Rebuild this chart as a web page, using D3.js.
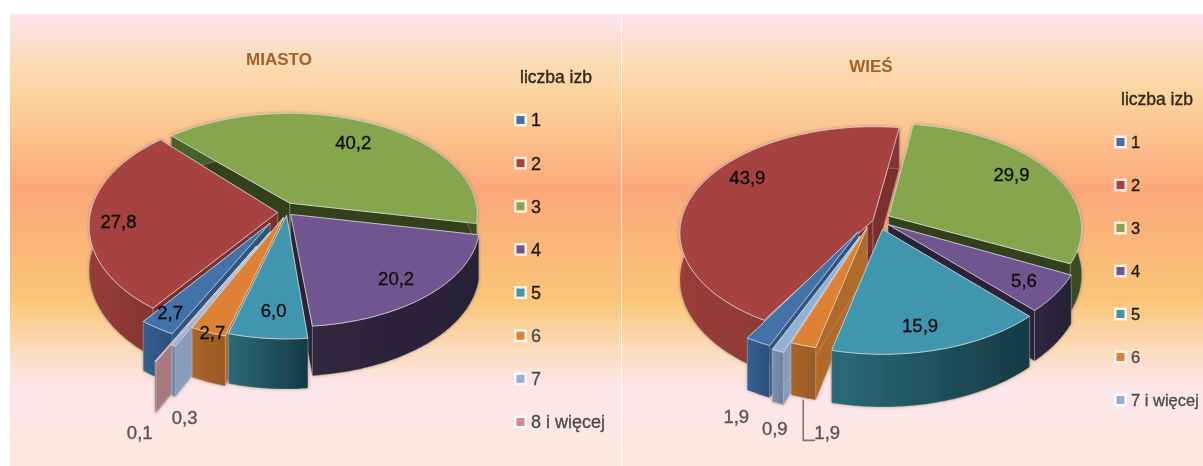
<!DOCTYPE html>
<html lang="pl">

<head>
    <meta charset="UTF-8">
    <script src="https://d3js.org/d3.v7.min.js"></script>
    <title>Liczba izb - miasto i wieś</title>
    <style>
        html, body { margin: 0; padding: 0; background: white; overflow: hidden; }
        svg { display: block; }
        text { font-family: "Liberation Sans", Arial, sans-serif; }
    </style>
</head>

<body>
    <svg id="chart" width="1203" height="466"></svg>

    <script>
        // data
        const cityCategories = ["1", "2", "3", "4", "5", "6", "7", "8 i więcej"];
        const cityValues = [2.7, 27.8, 40.2, 20.2, 6.0, 2.7, 0.3, 0.1];
        const villageCategories = ["1", "2", "3", "4", "5", "6", "7 i więcej"];
        const villageValues = [1.9, 43.9, 29.9, 5.6, 15.9, 1.9, 0.9];

        // slice colours, same order as categories
        const topColors = ["#4372a8", "#a64340", "#87a54e", "#705590", "#3f96ae", "#dd8236", "#95b0d8", "#cf8e8e"];
        const wallColors = ["#2f5480", "#7d2f2d", "#33401e", "#2a2238", "#1c4a58", "#b06a2a", "#8a9cbc", "#a87a80"];
        const rimLight = ["#34608f", "#983c39", "#4c5f2c", "#30263f", "#2b6a7a", "#a9652a", "#7e8fae", "#a3757a"];
        const rimDark = ["#2c4f7c", "#823432", "#3c4b22", "#272035", "#163a45", "#995a24", "#6f809f", "#967079"];

        // layout of each pie: explode = how far a slice is pulled out, squash = flattening of a slice,
        // shift = small screen correction of a slice, nudge = label offset from its rim point
        const cityLayout = {
            cx: 287, cy: 212, rx: 187, ry: 108, depth: 44, startDeg: 207,
            explode: [0.12, 0.05, 0.03, 0.03, 0.03, 0.05, 0.2, 0.29],
            squash: [1, 1, 0.93, 0.92, 1, 1, 1, 1],
            shift: [[-5, 0], [0, 0], [0, -6], [0, 0], [0, 0], [0, 0], [0, 0], [-5, 5]],
            nudge: [[13, -16], [29, 3], [-19, 19], [-32, -17], [6, -28], [4, 0], [11, 72], [-16, 71]]
        };
        const villageLayout = {
            cx: 882, cy: 222, rx: 192, ry: 108, depth: 46, startDeg: 203.6,
            explode: [0.1, 0.05, 0.04, 0.04, 0.07, 0.05, 0.08],
            squash: [1, 0.97, 0.96, 1, 1, 1, 1],
            shift: [[-15, 0], [0, 0], [0, -4], [0, 0], [-3, 0], [-12, 0], [-16, 6]],
            nudge: [[-22, 74], [48, -9], [-38, 4], [-32, -13], [-20, -24], [24, 87], [-3, 77]]
        };
        const perspective = 0.12;

        const svg = d3.select("#chart");
        const defs = svg.append("defs");

        // background gradient of both panels
        const bgStops = [
            [14, "#fde4ef"], [60, "#fbdcb8"], [95, "#fbd49c"], [190, "#fba87a"],
            [300, "#fac578"], [350, "#fcdcbd"], [388, "#fde6ec"], [466, "#fce8dc"]
        ];
        const bgOffset = d3.scaleLinear().domain([14, 466]).range([0, 1]);
        const bg = defs.append("linearGradient").attr("id", "bg").attr("x2", 0).attr("y2", 1);
        bgStops.forEach(s => bg.append("stop").attr("offset", bgOffset(s[0])).attr("stop-color", s[1]));

        const soft = defs.append("filter").attr("id", "soft")
            .attr("x", "-5%").attr("y", "-5%").attr("width", "110%").attr("height", "110%");
        soft.append("feGaussianBlur").attr("stdDeviation", 0.7);

        const pieSoft = defs.append("filter").attr("id", "pieSoft")
            .attr("x", "-5%").attr("y", "-5%").attr("width", "110%").attr("height", "110%");
        pieSoft.append("feDropShadow").attr("dx", 0).attr("dy", 0).attr("stdDeviation", 1.5)
            .attr("flood-color", "#6b5a30").attr("flood-opacity", 0.55).attr("result", "sh");
        pieSoft.append("feGaussianBlur").attr("in", "sh").attr("stdDeviation", 0.7);

        svg.append("rect").attr("x", 10).attr("y", 14).attr("width", 611).attr("height", 452).attr("fill", "url(#bg)");
        svg.append("rect").attr("x", 622).attr("y", 14).attr("width", 581).attr("height", 452).attr("fill", "url(#bg)");

        function drawPie(id, values, layout) {
            const startA = layout.startDeg * Math.PI / 180;
            const slices = d3.pie().sort(null).startAngle(startA).endAngle(startA + 2 * Math.PI)(values);

            // plane coordinates -> screen, front of the pie comes out bigger
            function project(angle, r, slice) {
                const mid = (slice.startAngle + slice.endAngle) / 2;
                const e = layout.explode[slice.index];
                const shift = layout.shift[slice.index];
                const X = r * Math.sin(angle) + e * Math.sin(mid);
                const Y = -r * Math.cos(angle) * layout.squash[slice.index] - e * Math.cos(mid);
                const s = 1 / (1 - perspective * Y);
                return {
                    x: layout.cx + X * layout.rx * s + shift[0],
                    y: layout.cy + Y * layout.ry * s + shift[1],
                    d: layout.depth * s
                };
            }

            const line = d3.line().x(p => p.x).y(p => p.y);
            const closed = pts => line(pts) + "Z";
            const drop = p => ({ x: p.x, y: p.y + p.d });

            const order = slices.slice().sort((a, b) => {
                const off = s => {
                    const m = ((s.startAngle + s.endAngle) / 2) * 180 / Math.PI % 360;
                    return Math.abs(m - 180);
                };
                return off(b) - off(a);
            });

            const g = svg.append("g").attr("filter", "url(#pieSoft)");

            order.forEach(slice => {
                const i = slice.index;
                const steps = Math.max(2, Math.ceil((slice.endAngle - slice.startAngle) * 180 / Math.PI));
                const angles = d3.range(steps + 1).map(k => slice.startAngle + (slice.endAngle - slice.startAngle) * k / steps);
                const rim = angles.map(a => project(a, 1, slice));
                const apex = project(slice.startAngle, 0, slice);

                const grad = defs.append("linearGradient").attr("id", id + "rim" + i);
                grad.append("stop").attr("offset", 0).attr("stop-color", rimLight[i]);
                grad.append("stop").attr("offset", 1).attr("stop-color", rimDark[i]);

                // cut walls of the slice
                [rim[0], rim[rim.length - 1]].forEach(end => {
                    g.append("path")
                        .attr("d", closed([apex, end, drop(end), drop(apex)]))
                        .attr("fill", wallColors[i])
                        .attr("stroke", "#cfd3d8").attr("stroke-opacity", 0.35).attr("stroke-width", 0.8);
                });

                // outer wall
                g.append("path")
                    .attr("d", closed(rim.concat(rim.map(drop).reverse())))
                    .attr("fill", "url(#" + id + "rim" + i + ")")
                    .attr("stroke", "#cfd3d8").attr("stroke-opacity", 0.35).attr("stroke-width", 0.8);

                // top
                g.append("path")
                    .attr("d", closed([apex].concat(rim)))
                    .attr("fill", topColors[i])
                    .attr("stroke", "#dfe2e6").attr("stroke-opacity", 0.75).attr("stroke-width", 1);
            });

            // labels sit relative to the rim point of their slice
            const labels = svg.append("g").attr("filter", "url(#soft)");
            slices.forEach(slice => {
                const mid = (slice.startAngle + slice.endAngle) / 2;
                const p = project(mid, 1, slice);
                const n = layout.nudge[slice.index];
                const outside = n[1] > 50;
                labels.append("text")
                    .attr("x", p.x + n[0]).attr("y", p.y + n[1]).attr("dy", "0.36em")
                    .attr("text-anchor", "middle")
                    .attr("font-size", 18.5)
                    .attr("fill", outside ? "#555" : "#111")
                    .attr("stroke", outside ? "#555" : "#111").attr("stroke-width", 0.35)
                    .text(d3.format(".1f")(slice.value).replace(".", ","));
            });

            return { slices, project, labels };
        }

        function drawLegend(title, categories, x, titleX, titleY, firstY, lastY, fontSize) {
            const g = svg.append("g").attr("filter", "url(#soft)");
            const y = d3.scalePoint().domain(categories).range([firstY, lastY]);

            g.append("text").attr("x", titleX).attr("y", titleY).attr("dy", "0.36em")
                .attr("text-anchor", "middle").attr("font-size", 17.5).attr("fill", "#33291c")
                .attr("stroke", "#33291c").attr("stroke-width", 0.4)
                .text(title);

            categories.forEach((c, i) => {
                g.append("rect").attr("x", x).attr("y", y(c) - 6.5).attr("width", 13).attr("height", 13)
                    .attr("fill", "#fff").attr("fill-opacity", 0.75);
                g.append("rect").attr("x", x + 2.5).attr("y", y(c) - 4).attr("width", 8).attr("height", 8)
                    .attr("fill", topColors[i]);
                g.append("text").attr("x", x + 17).attr("y", y(c)).attr("dy", "0.36em")
                    .attr("font-size", fontSize).attr("fill", i > 4 ? "#4a4a4a" : "#1e1a14")
                    .attr("stroke", i > 4 ? "#4a4a4a" : "#1e1a14").attr("stroke-width", 0.3)
                    .text(c);
            });
        }

        function drawTitle(text, x, y) {
            svg.append("text").attr("x", x).attr("y", y).attr("dy", "0.36em")
                .attr("text-anchor", "middle").attr("font-size", 17).attr("font-weight", "bold")
                .attr("fill", "#a5602a").attr("filter", "url(#soft)")
                .text(text);
        }

        drawPie("city", cityValues, cityLayout);
        const village = drawPie("village", villageValues, villageLayout);

        // leader line of the small orange slice on the right pie
        const orange = village.slices[5];
        const orangeRim = village.project((orange.startAngle + orange.endAngle) / 2, 1, orange);
        const orangeNudge = villageLayout.nudge[5];
        village.labels.append("path")
            .attr("d", d3.line()([
                [orangeRim.x, orangeRim.y + orangeRim.d + 2],
                [orangeRim.x, orangeRim.y + orangeNudge[1] + 8],
                [orangeRim.x + orangeNudge[0] - 12, orangeRim.y + orangeNudge[1] + 8]
            ]))
            .attr("fill", "none").attr("stroke", "#777").attr("stroke-width", 1.6);

        drawTitle("MIASTO", 279, 59);
        drawTitle("WIEŚ", 871, 66);
        drawLegend("liczba izb", cityCategories, 514, 556, 77, 120, 422, 18);
        drawLegend("liczba izb", villageCategories, 1114, 1157, 99, 142, 400, 16.5);
    </script>

</body>

</html>
